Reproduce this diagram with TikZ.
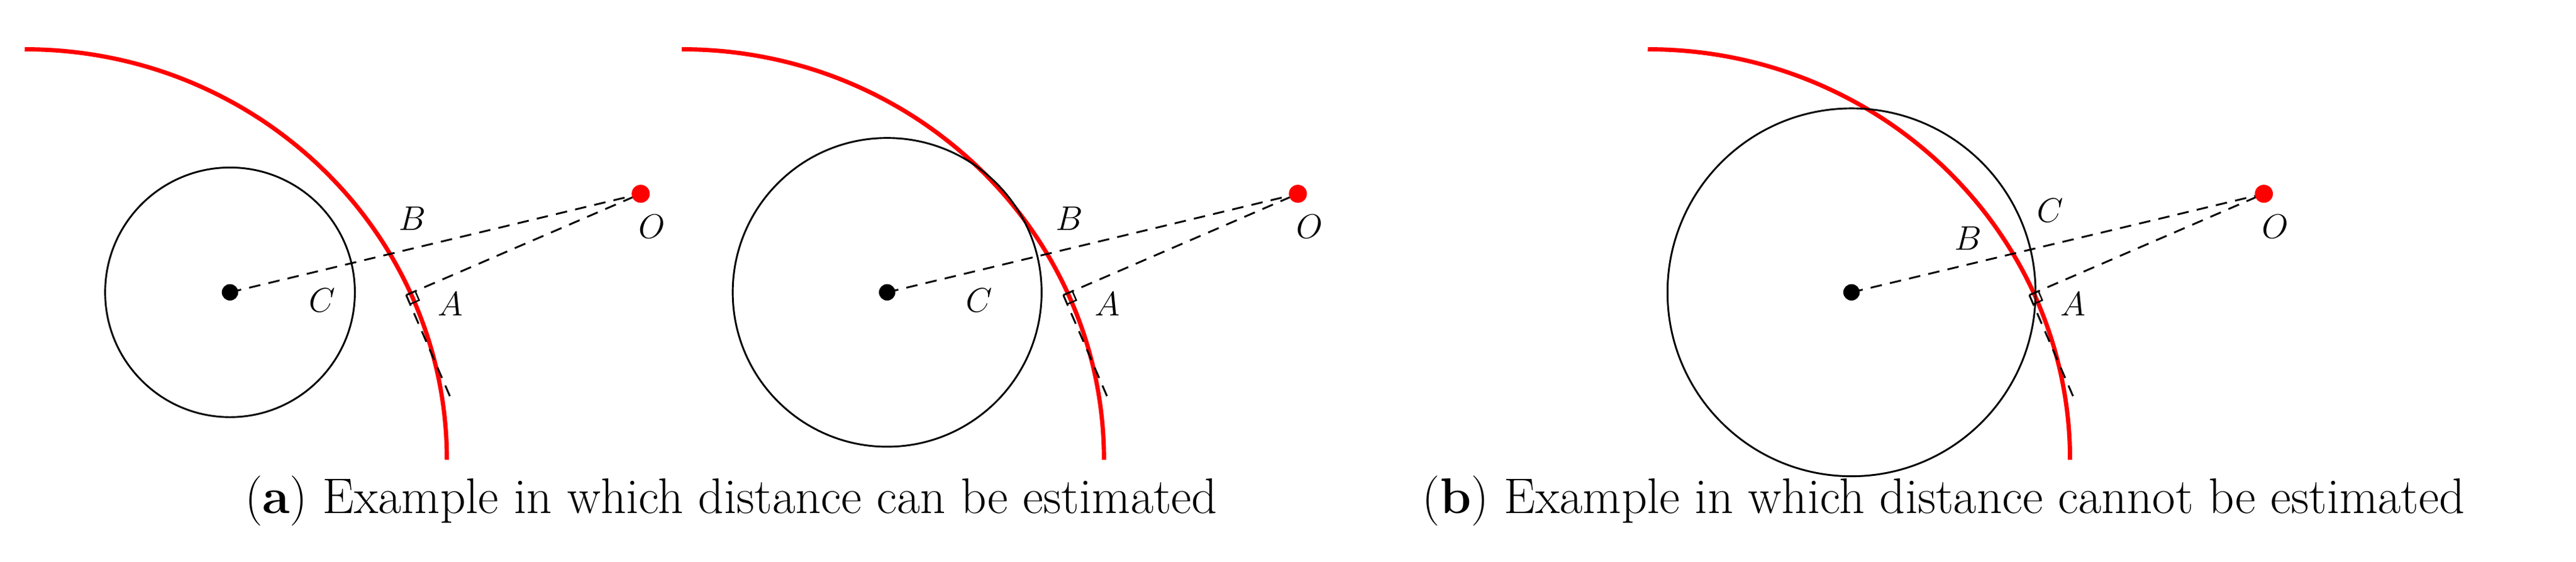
\documentclass[tikz,border=0pt]{standalone}
\usetikzlibrary{calc}
\begin{document}
\begin{tikzpicture}[x=1pt,y=-1pt,
 redarc/.style={red,line width=2.6pt},
 obj/.style={black,line width=1.1pt},
 dsh/.style={black,dashed,dash pattern=on 7pt off 5pt,line width=1.1pt},
 lbl/.style={font=\fontsize{21}{21}\selectfont},
 captxt/.style={font=\fontsize{30.5}{33}\selectfont}]
\useasboundingbox (0,0) rectangle (1568,342);
\newcommand\drawpanel[7]{% #1 shift, #2 radius, #3 name, #4 B pos, #5 C pos, #6 circle center x
\begin{scope}[xshift=#1pt]
 \coordinate (K#3) at (15,280);
 \draw[redarc] (15,30) arc[start angle=90,end angle=0,x radius=257,y radius=-250];
 \coordinate (O#3) at (390,118);
 \coordinate (X#3) at (#6,178);
 \draw[obj] (X#3) circle[radius=#2];
 \fill (X#3) circle[radius=5];
 \coordinate (A#3) at ($(K#3)!253pt!(O#3)$);
 \coordinate (T#3) at ($(A#3)!70pt!-90:(O#3)$);
 \draw[dsh] (X#3) -- (O#3);
 \draw[dsh] (A#3) -- (O#3);
 \draw[dsh] (A#3) -- (T#3);
 \draw[obj,line width=0.9pt] ($(A#3)!6pt!(O#3)$) -- ($(A#3)!6pt!(O#3)!6pt!-90:(O#3)$) -- ($(A#3)!6pt!-90:(O#3)$);
 \fill[red] (O#3) circle[radius=5.5];
 \node[lbl] (lO#3) at (397,138) {$O$};
 \node[lbl] (lA#3) at (274,185) {$A$};
 \node[lbl] (lB#3) at #4 {$B$};
 \node[lbl] (lC#3) at #5 {$C$};
\end{scope}}
\drawpanel{0}{76}{a}{(251,133)}{(196,183)}{140}{}
\drawpanel{400}{94}{b}{(251,133)}{(196,183)}{140}{}
\drawpanel{988}{112}{c}{(210,145)}{(260,128)}{139}{}
\node[captxt] (capa) at (445,305) {(\textbf{a}) Example in which distance can be estimated};
\node[captxt] (capb) at (1183,305) {(\textbf{b}) Example in which distance cannot be estimated};
\end{tikzpicture}
\end{document}
